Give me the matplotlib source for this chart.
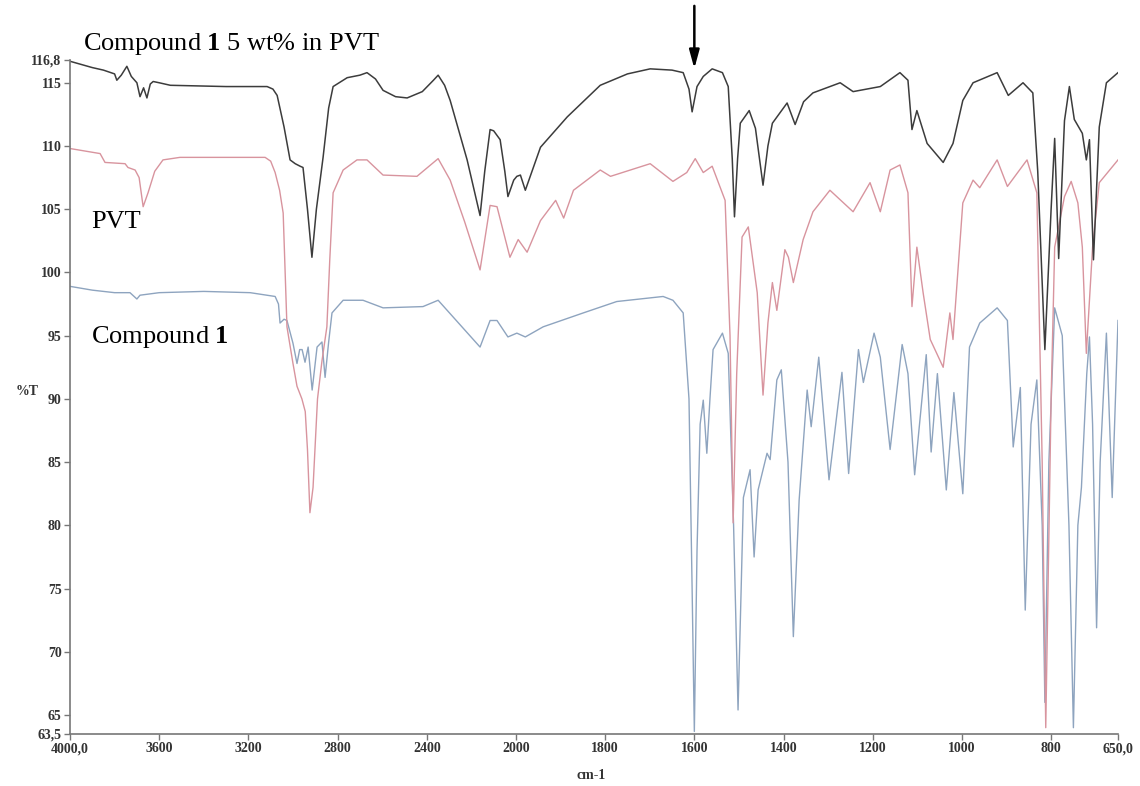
import numpy as np
import matplotlib
matplotlib.use("Agg")
import matplotlib.pyplot as plt

plt.rcParams['font.family'] = ['Liberation Serif', 'DejaVu Serif']
plt.rcParams['mathtext.fontset'] = 'custom'
plt.rcParams['mathtext.rm'] = 'Liberation Serif'
plt.rcParams['mathtext.bf'] = 'Liberation Serif:bold'

# ---- data (wavenumber cm-1, %T) ----
blend_wn = [4000, 3900, 3850, 3800, 3790, 3770, 3745, 3725, 3700, 3686, 3670, 3655, 3640, 3627,
            3600, 3550, 3300, 3116, 3090, 3071, 3040, 3013, 2990, 2968, 2955, 2935, 2915, 2895,
            2865, 2840, 2820, 2757, 2700, 2668, 2630, 2596, 2540, 2488, 2420, 2370, 2349, 2320,
            2295, 2219, 2161, 2140, 2116, 2100, 2071, 2050, 2036, 2010, 1998, 1990, 1979, 1945,
            1885, 1811, 1750, 1699, 1650, 1625, 1612, 1605, 1594, 1580, 1560, 1537, 1524, 1515,
            1510, 1503, 1497, 1477, 1463, 1446, 1435, 1425, 1392, 1374, 1355, 1334, 1273, 1244,
            1183, 1139, 1121, 1112, 1101, 1078, 1042, 1020, 998, 975, 921, 896, 863, 841, 830,
            814, 800, 792, 783, 770, 759, 748, 730, 721, 714, 705, 692, 676, 650]
blend_t = [116.7, 116.2, 116.0, 115.7, 115.2, 115.6, 116.3, 115.5, 115.0, 113.9, 114.6, 113.8, 114.9, 115.1,
           115.0, 114.8, 114.7, 114.7, 114.5, 114.0, 111.5, 108.9, 108.6, 108.4, 108.3, 105.0, 101.2, 105.0,
           109.1, 113.0, 114.7, 115.4, 115.6, 115.8, 115.3, 114.4, 113.9, 113.8, 114.3, 115.2, 115.6, 114.8,
           113.6, 108.9, 104.5, 108.0, 111.3, 111.2, 110.5, 108.0, 106.0, 107.3, 107.6, 107.7, 106.5, 109.9,
           112.3, 114.8, 115.7, 116.1, 116.0, 115.8, 114.5, 112.7, 114.7, 115.5, 116.1, 115.8, 114.7, 109.0,
           104.4, 109.0, 111.8, 112.8, 111.4, 106.9, 110.0, 111.8, 113.4, 111.7, 113.5, 114.2, 115.0, 114.3,
           114.7, 115.8, 115.2, 111.3, 112.8, 110.2, 108.7, 110.2, 113.6, 115.0, 115.8, 114.0, 115.0, 114.2, 108.0,
           93.9, 105.0, 110.6, 101.1, 112.0, 114.7, 112.1, 111.0, 108.9, 110.5, 101.0, 111.5, 115.0, 115.8]

pvt_wn = [4000, 3865, 3843, 3753, 3740, 3708, 3690, 3672, 3650, 3620, 3583, 3507, 3300, 3125, 3100,
          3080, 3060, 3044, 3027, 3000, 2982, 2960, 2945, 2935, 2924, 2910, 2890, 2870, 2848, 2835,
          2820, 2775, 2713, 2668, 2596, 2444, 2349, 2295, 2230, 2161, 2116, 2085, 2027, 1995, 1975,
          1945, 1911, 1893, 1871, 1811, 1788, 1699, 1648, 1617, 1598, 1580, 1560, 1531, 1520, 1513,
          1505, 1493, 1479, 1459, 1446, 1435, 1425, 1415, 1397, 1389, 1378, 1356, 1334, 1296, 1244,
          1206, 1183, 1161, 1139, 1121, 1112, 1101, 1087, 1071, 1042, 1027, 1020, 998, 975, 960,
          921, 898, 854, 832, 820, 812, 800, 792, 770, 755, 740, 730, 721, 707, 692, 650]
pvt_t = [109.8, 109.4, 108.7, 108.6, 108.3, 108.1, 107.5, 105.2, 106.3, 108.0, 108.9, 109.1, 109.1, 109.1, 108.8,
         107.9, 106.5, 104.7, 95.7, 92.8, 91.0, 90.0, 89.0, 86.0, 81.0, 83.0, 90.0, 93.0, 95.7, 101.0,
         106.3, 108.1, 108.9, 108.9, 107.7, 107.6, 109.0, 107.3, 104.0, 100.2, 105.3, 105.2, 101.2, 102.6, 101.6,
         104.1, 105.7, 104.3, 106.5, 108.1, 107.6, 108.6, 107.2, 107.9, 109.0, 107.9, 108.4, 105.7, 95.0, 80.2,
         92.0, 102.8, 103.6, 98.4, 90.3, 96.0, 99.2, 97.0, 101.8, 101.2, 99.2, 102.6, 104.8, 106.5, 104.8,
         107.1, 104.8, 108.1, 108.5, 106.3, 97.3, 102.0, 98.4, 94.7, 92.5, 96.8, 94.7, 105.5, 107.3, 106.7,
         108.9, 106.8, 108.9, 106.3, 85.0, 64.0, 90.0, 102.0, 106.0, 107.2, 105.5, 102.0, 93.6, 102.0, 107.1, 108.9]

cmp_wn = [4000, 3900, 3800, 3731, 3700, 3686, 3600, 3400, 3192, 3080, 3065, 3058, 3040, 3027, 3000,
          2982, 2970, 2959, 2946, 2932, 2914, 2892, 2870, 2856, 2840, 2825, 2775, 2686, 2596, 2417,
          2349, 2161, 2116, 2085, 2036, 1998, 1979, 1939, 1849, 1774, 1670, 1648, 1625, 1612, 1605,
          1600, 1594, 1587, 1580, 1572, 1565, 1558, 1537, 1524, 1512, 1502, 1495, 1490, 1475, 1466,
          1457, 1437, 1430, 1415, 1405, 1390, 1378, 1365, 1347, 1338, 1321, 1298, 1269, 1254, 1232,
          1221, 1197, 1183, 1161, 1134, 1121, 1106, 1080, 1069, 1055, 1035, 1018, 998, 983, 960,
          921, 898, 885, 869, 858, 845, 832, 820, 814, 805, 792, 775, 760, 750, 740, 732, 720,
          714, 707, 698, 690, 676, 663, 650]
cmp_t = [98.9, 98.6, 98.4, 98.4, 97.9, 98.2, 98.4, 98.5, 98.4, 98.1, 97.5, 96.0, 96.3, 96.2, 94.4,
         92.8, 93.9, 93.9, 92.9, 94.1, 90.7, 94.1, 94.5, 91.7, 94.5, 96.8, 97.8, 97.8, 97.2, 97.3,
         97.8, 94.1, 96.2, 96.2, 94.9, 95.2, 94.9, 95.7, 96.8, 97.7, 98.1, 97.8, 96.8, 90.0, 75.0,
         63.7, 78.0, 88.0, 89.9, 85.7, 90.0, 93.9, 95.2, 93.6, 80.0, 65.4, 75.0, 82.2, 84.4, 77.5,
         82.8, 85.7, 85.2, 91.5, 92.3, 85.0, 71.2, 82.0, 90.7, 87.8, 93.3, 83.6, 92.1, 84.1, 93.9,
         91.3, 95.2, 93.3, 86.0, 94.3, 92.0, 84.0, 93.5, 85.8, 92.0, 82.8, 90.5, 82.5, 94.1, 96.0,
         97.2, 96.2, 86.2, 90.9, 73.3, 88.0, 91.5, 80.0, 66.0, 85.0, 97.2, 95.0, 80.0, 64.0, 80.0, 83.0, 92.0,
         94.9, 88.0, 71.9, 85.0, 95.2, 82.2, 96.2]

y_ticks = [116.8, 115, 110, 105, 100, 95, 90, 85, 80, 75, 70, 65, 63.5]
y_labels = ["116,8", "115", "110", "105", "100", "95", "90", "85", "80", "75", "70", "65", "63,5"]
x_ticks = [4000, 3600, 3200, 2800, 2400, 2000, 1800, 1600, 1400, 1200, 1000, 800, 650]
x_labels = ["4000,0", "3600", "3200", "2800", "2400", "2000", "1800", "1600", "1400",
            "1200", "1000", "800", "650,0"]


def fwd(x):
    x = np.asarray(x, dtype=float)
    return np.where(x > 2000, 2000 + (x - 2000) / 2.0, x)


def inv(u):
    u = np.asarray(u, dtype=float)
    return np.where(u > 2000, 2000 + (u - 2000) * 2.0, u)


fig = plt.figure(figsize=(11.4, 7.86), dpi=100)
ax = fig.add_axes([70 / 1140, 1 - 734 / 786, (1118 - 70) / 1140, (734 - 60) / 786])
ax.set_xscale('function', functions=(fwd, inv))

ax.plot(cmp_wn, cmp_t, color='#8ea4bf', lw=1.0)
ax.plot(pvt_wn, pvt_t, color='#d8949e', lw=1.0)
ax.plot(blend_wn, blend_t, color='#3c3c3c', lw=1.1)

ax.set_xlim(4000, 650)
ax.set_ylim(63.5, 116.8)

for s in ['top', 'right']:
    ax.spines[s].set_visible(False)
for s in ['left', 'bottom']:
    ax.spines[s].set_color('#777777')
    ax.spines[s].set_linewidth(1.2)

ax.set_yticks(y_ticks)
ax.set_yticklabels(y_labels)
ax.set_xticks(x_ticks)
ax.set_xticklabels(x_labels)
ax.minorticks_off()
ax.tick_params(axis='both', direction='out', length=4, width=1, color='#777777',
               labelsize=10, pad=2)
for lab in ax.get_xticklabels() + ax.get_yticklabels():
    lab.set_fontweight('bold')
    lab.set_color('#333333')

ax.text(-0.052, 0.508, "%T", transform=ax.transAxes, fontsize=10, fontweight='bold',
        color='#333333', ha='left', va='center')
ax.text(0.497, -0.052, "cm-1", transform=ax.transAxes, fontsize=10, fontweight='bold',
        color='#333333', ha='center', va='top')

ax.text(0.012, 1.004, r"Compound $\mathbf{1}$ 5 wt% in PVT", transform=ax.transAxes,
        fontsize=19, color='black', ha='left', va='bottom')
ax.text(3905, 104.0, "PVT", fontsize=19, color='black', ha='left', va='center')
ax.text(3905, 94.9, r"Compound $\mathbf{1}$", fontsize=19, color='black', ha='left', va='center')

ax.annotate("", xy=(1600, 115.9), xytext=(1600, 121.3), annotation_clip=False,
            arrowprops=dict(arrowstyle='-|>,head_width=0.3,head_length=1.1',
                            color='black', lw=1.8))

fig.savefig("out.png", dpi=100)
